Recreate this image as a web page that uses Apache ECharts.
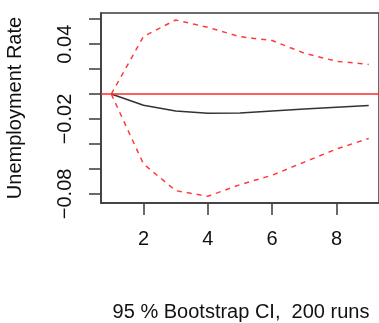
<!DOCTYPE html>
<html><head><meta charset="utf-8">
<script src="https://cdn.jsdelivr.net/npm/echarts@6/dist/echarts.min.js"></script>
<style>html,body{margin:0;padding:0;background:#fff}#c{width:379px;height:323px}</style>
</head><body><div id="c"></div>
<script>
const horizon = [1, 2, 3, 4, 5, 6, 7, 8, 9];
const irf   = [0, -0.0090, -0.0136, -0.0153, -0.0152, -0.0136, -0.0120, -0.0105, -0.0092];
const upper = [0, 0.0462, 0.0594, 0.0535, 0.0460, 0.0429, 0.0328, 0.0263, 0.0238];
const lower = [0, -0.0560, -0.0774, -0.0819, -0.0726, -0.0650, -0.0545, -0.0440, -0.0356];
const xTicks = [2, 4, 6, 8];
const yTicks = [-0.08, -0.06, -0.04, -0.02, 0, 0.02, 0.04, 0.06];
const yLabels = [-0.08, -0.02, 0.04];
const zeroLine = 0;
const yTitle = 'Unemployment Rate';
const subTitle = '95 % Bootstrap CI,  200 runs';

const FONT = '"Liberation Sans", Arial, Helvetica, sans-serif';
const AX = '#3a3a3a';
const pair = a => horizon.map((h, i) => [h, a[i]]);

const chart = echarts.init(document.getElementById('c'), null, {renderer: 'canvas'});
chart.setOption({
  animation: false,
  backgroundColor: '#fff',
  grid: {left: 101, top: 13, width: 282, height: 190, show: true, borderColor: AX, borderWidth: 1.5, backgroundColor: 'transparent'},
  xAxis: {
    type: 'value', min: 0.68, max: 9.32,
    splitLine: {show: false},
    axisLine: {show: true, onZero: false, lineStyle: {color: AX, width: 1.5}},
    axisTick: {show: true, length: 12, customValues: xTicks, lineStyle: {color: AX, width: 1.5}},
    axisLabel: {customValues: xTicks, margin: 26, fontSize: 20, fontFamily: FONT, color: '#111'}
  },
  yAxis: {
    type: 'value', min: -0.0873, max: 0.0650,
    splitLine: {show: false},
    axisLine: {show: true, onZero: false, lineStyle: {color: AX, width: 1.5}},
    axisTick: {show: true, length: 12, customValues: yTicks, lineStyle: {color: AX, width: 1.5}},
    axisLabel: {customValues: yLabels, rotate: 90, margin: 26, fontSize: 20, fontFamily: FONT, color: '#111',
      formatter: v => v.toFixed(2).replace('-', '\u2212')}
  },
  graphic: [
    {type: 'text', x: 15, y: 108, rotation: Math.PI / 2,
     style: {text: yTitle, font: '20px ' + FONT, fill: '#111', align: 'center', verticalAlign: 'middle'}},
    {type: 'text', x: 241, y: 312,
     style: {text: subTitle, font: '20px ' + FONT, fill: '#111', align: 'center', verticalAlign: 'middle'}}
  ],
  series: [
    {type: 'line', data: pair(irf), showSymbol: false, smooth: false,
     lineStyle: {color: '#333', width: 1.6},
     markLine: {silent: true, symbol: 'none', label: {show: false},
       lineStyle: {color: '#ff2a2a', width: 1.5, type: 'solid'},
       data: [{yAxis: zeroLine}]}},
    {type: 'line', data: pair(upper), showSymbol: false, smooth: false,
     lineStyle: {color: '#ff3b3b', width: 1.5, type: [5, 5]}},
    {type: 'line', data: pair(lower), showSymbol: false, smooth: false,
     lineStyle: {color: '#ff3b3b', width: 1.5, type: [5, 5]}}
  ]
});
</script></body></html>
